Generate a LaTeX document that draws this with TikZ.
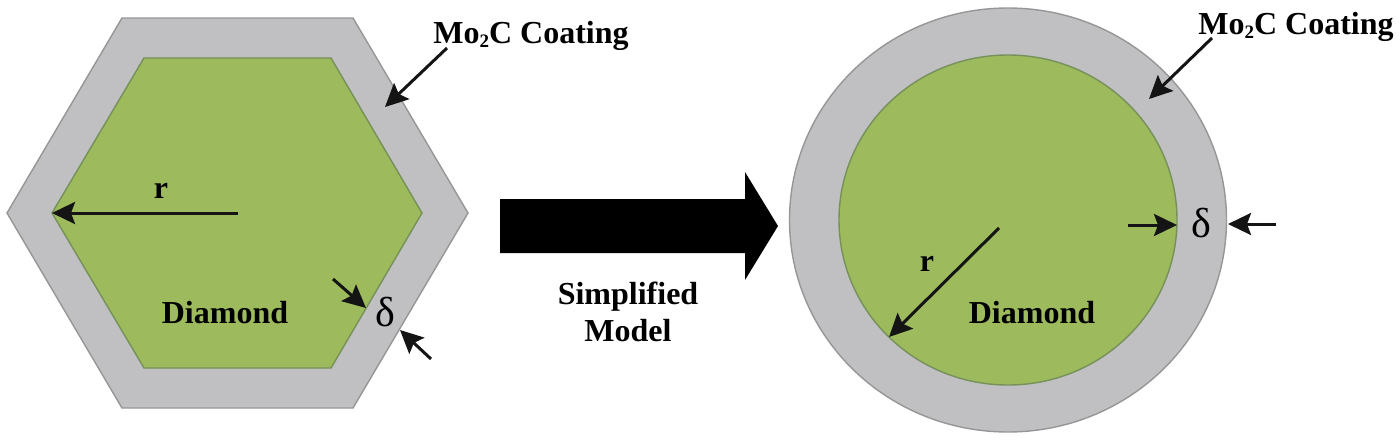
\documentclass[tikz,border=0pt]{standalone}
\usepackage{fontspec}
\setmainfont{Liberation Serif}
\usetikzlibrary{arrows.meta}
\definecolor{coat}{HTML}{C0C0C2}
\definecolor{coatline}{HTML}{969696}
\definecolor{core}{HTML}{9DBB5D}
\definecolor{coreline}{HTML}{76905A}
\newcommand{\subtwo}{\raisebox{-3.5pt}{\fontsize{19}{19}\selectfont 2}}
\tikzset{
  coating/.style={fill=coat,draw=coatline,line width=1.4pt},
  corefill/.style={fill=core,draw=coreline,line width=1.4pt},
  lead/.style={draw=black!92,line width=3pt,-{Stealth[length=23pt,width=22pt,inset=4pt]}},
  bigarrow/.style={fill=black,draw=none},
  lab/.style={inner sep=0pt,font=\fontsize{32}{34}\selectfont\bfseries,text=black},
  labsmall/.style={inner sep=0pt,font=\fontsize{32}{37}\selectfont\bfseries,align=center},
  sym/.style={inner sep=0pt,font=\fontsize{42}{44}\selectfont}
}
\begin{document}
\begin{tikzpicture}[x=1pt,y=-1pt]
\useasboundingbox (0,0) rectangle (1400,440);
% Hexagon
\path[coating] (7,213) -- (122,18) -- (353,18) -- (468,213) -- (353,408) -- (122,408) -- cycle;
\path[corefill] (52,213) -- (144,58) -- (331,58) -- (422,213) -- (331,368) -- (144,368) -- cycle;
% Circle
\path[coating] (1008,220) ellipse [x radius=218.5,y radius=212];
\path[corefill] (1008,220) ellipse [x radius=169,y radius=165];
% Big arrow
\path[bigarrow] (500,199) -- (745,199) -- (745,172) -- (778,226) -- (745,280) -- (745,253) -- (500,253) -- cycle;
% Labels
\node[lab] (coatA) at (531,36) {Mo\subtwo C Coating};
\node[lab] (coatB) at (1296,27) {Mo\subtwo C Coating};
\node[lab] (rA) at (161,191) {r};
\node[lab] (rB) at (927,264) {r};
\node[lab] (diaA) at (225,313) {Diamond};
\node[lab] (diaB) at (1032,313) {Diamond};
\node[labsmall] (model) at (628,312) {Simplified\\Model};
\node[sym] (dA) at (385,312) {δ};
\node[sym] (dB) at (1201,223) {δ};
% Coordinates
\coordinate (a1s) at (447,48); \coordinate (a1e) at (385,107);
\coordinate (a2s) at (1212,38); \coordinate (a2e) at (1149,99);
\coordinate (r1s) at (238,213); \coordinate (r1e) at (52,213);
\coordinate (r2s) at (999,228); \coordinate (r2e) at (889,337);
\coordinate (d1s) at (333,279); \coordinate (d1e) at (366,308);
\coordinate (d2s) at (431,359); \coordinate (d2e) at (400,330);
\coordinate (d3s) at (1128,225); \coordinate (d3e) at (1177,225);
\coordinate (d4s) at (1276,224); \coordinate (d4e) at (1228,224);
% Arrows
\foreach \s/\e in {a1s/a1e,a2s/a2e,r1s/r1e,r2s/r2e,d1s/d1e,d2s/d2e,d3s/d3e,d4s/d4e}
  \draw[lead] (\s) -- (\e);
\end{tikzpicture}
\end{document}
